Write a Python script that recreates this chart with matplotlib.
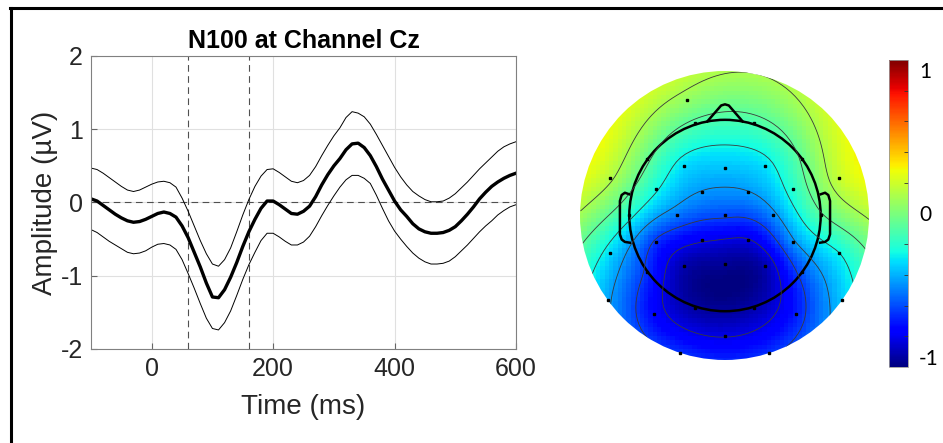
import numpy as np
import matplotlib
matplotlib.use('Agg')
import matplotlib.pyplot as plt
from matplotlib.patches import Circle
from matplotlib.lines import Line2D

plt.rcParams['font.family'] = ['Liberation Sans', 'DejaVu Sans']
plt.rcParams['axes.unicode_minus'] = False

# ERP at Cz (mean and confidence band), every 10 ms
time_ms = list(range(-100, 601, 10))
erp_mean = [0.05, 0.02, -0.04, -0.10, -0.16, -0.21, -0.25, -0.27, -0.26, -0.23,
            -0.19, -0.15, -0.13, -0.15, -0.20, -0.32, -0.48, -0.68, -0.88, -1.10,
            -1.29, -1.30, -1.19, -1.02, -0.82, -0.60, -0.40, -0.23, -0.08, 0.02,
            0.02, -0.03, -0.09, -0.15, -0.16, -0.12, -0.05, 0.08, 0.24, 0.38,
            0.50, 0.60, 0.72, 0.80, 0.81, 0.75, 0.64, 0.49, 0.32, 0.17,
            0.02, -0.10, -0.19, -0.29, -0.36, -0.40, -0.42, -0.42, -0.41, -0.38,
            -0.33, -0.25, -0.16, -0.06, 0.05, 0.14, 0.22, 0.28, 0.33, 0.37,
            0.40]
erp_upper = [0.47, 0.45, 0.40, 0.34, 0.28, 0.22, 0.17, 0.15, 0.17, 0.21,
             0.25, 0.28, 0.29, 0.27, 0.21, 0.06, -0.12, -0.32, -0.52, -0.70,
             -0.84, -0.87, -0.78, -0.62, -0.40, -0.17, 0.04, 0.22, 0.36, 0.45,
             0.46, 0.41, 0.35, 0.29, 0.27, 0.30, 0.37, 0.49, 0.64, 0.78,
             0.91, 1.02, 1.16, 1.24, 1.22, 1.17, 1.07, 0.93, 0.78, 0.63,
             0.48, 0.35, 0.24, 0.15, 0.09, 0.04, 0.01, 0.01, 0.02, 0.06,
             0.12, 0.20, 0.28, 0.37, 0.46, 0.54, 0.62, 0.70, 0.76, 0.80,
             0.83]
erp_lower = [-0.37, -0.41, -0.47, -0.53, -0.58, -0.63, -0.68, -0.70, -0.69, -0.66,
             -0.61, -0.57, -0.56, -0.58, -0.64, -0.78, -0.97, -1.17, -1.38, -1.58,
             -1.72, -1.74, -1.64, -1.48, -1.27, -1.05, -0.85, -0.68, -0.52, -0.42,
             -0.42, -0.47, -0.53, -0.58, -0.58, -0.54, -0.46, -0.33, -0.18, -0.04,
             0.09, 0.21, 0.31, 0.37, 0.37, 0.33, 0.26, 0.10, -0.08, -0.25,
             -0.39, -0.50, -0.60, -0.69, -0.76, -0.81, -0.84, -0.84, -0.83, -0.80,
             -0.74, -0.66, -0.58, -0.49, -0.40, -0.32, -0.25, -0.17, -0.11, -0.06,
             -0.03]
window_ms = [60, 160]

# electrode positions (head radius = 0.5) and N100 window amplitudes
elec_x = [-0.197, -0.157, 0.150, -0.409, 0.404, -0.601, 0.598, -0.213, -0.002, 0.209,
          -0.361, -0.122, 0.118, 0.357, -0.503, -0.253, -0.002, 0.249, 0.502, -0.361,
          -0.122, 0.118, 0.357, -0.601, 0.598, -0.213, -0.002, 0.209, -0.409, 0.404,
          -0.613, 0.610, -0.157, 0.150, -0.373, 0.369, -0.002, -0.235, 0.232]
elec_y = [0.602, 0.482, 0.482, 0.297, 0.297, 0.194, 0.194, 0.259, 0.250, 0.259,
          0.137, 0.125, 0.125, 0.137, 0.001, 0.001, 0.001, 0.001, 0.001, -0.139,
          -0.126, -0.126, -0.139, -0.196, -0.196, -0.262, -0.252, -0.262, -0.295, -0.295,
          -0.443, -0.443, -0.482, -0.482, -0.513, -0.513, -0.628, -0.720, -0.720]
elec_val = [0.06, -0.11, -0.13, -0.05, -0.06, 0.14, 0.19, -0.34, -0.39, -0.33,
            -0.26, -0.48, -0.48, -0.21, -0.23, -0.55, -0.65, -0.52, -0.10, -0.70,
            -0.85, -0.88, -0.50, -0.34, -0.28, -0.98, -1.02, -0.97, -0.70, -0.62,
            -0.45, -0.38, -1.00, -0.98, -0.80, -0.75, -0.88, -0.70, -0.70]

plotrad = 0.755

fig = plt.figure(figsize=(9.43, 4.43), dpi=100)

# ---- ERP panel ----
ax = fig.add_axes([0.0965, 0.2122, 0.4507, 0.6614])
ax.grid(True, color='#e0e0e0', lw=0.8)
ax.set_axisbelow(True)
ax.axhline(0, color='#505050', lw=0.8, dashes=(6, 4))
for t in window_ms:
    ax.axvline(t, color='#505050', lw=0.8, dashes=(6, 4))
ax.plot(time_ms, erp_upper, color='k', lw=0.7)
ax.plot(time_ms, erp_lower, color='k', lw=0.7)
ax.plot(time_ms, erp_mean, color='k', lw=2.4)
ax.set_xlim(-100, 600)
ax.set_ylim(-2, 2)
ax.set_xticks([0, 200, 400, 600])
ax.set_yticks([-2, -1, 0, 1, 2])
ax.tick_params(direction='in', length=4, color='#666666', labelsize=18,
               labelcolor='#262626', pad=6)
for s in ax.spines.values():
    s.set_color('#808080')
    s.set_linewidth(0.8)
ax.set_title('N100 at Channel Cz', fontsize=18, fontweight='bold', pad=6)
ax.set_xlabel('Time (ms)', fontsize=20, color='#262626', labelpad=9)
ax.set_ylabel('Amplitude (µV)', fontsize=20, color='#262626', labelpad=2)

# ---- topography (biharmonic spline, like griddata v4) ----
ex = np.array(elec_x)
ey = np.array(elec_y)
ev = np.array(elec_val)

def green(r):
    g = np.zeros_like(r)
    nz = r > 0
    g[nz] = r[nz] ** 2 * (np.log(r[nz]) - 1)
    return g

pts = ex + 1j * ey
w = np.linalg.solve(green(np.abs(pts[:, None] - pts[None, :])), ev)
gv = np.linspace(-plotrad, plotrad, 67)
XX, YY = np.meshgrid(gv, gv)
dg = np.abs((XX + 1j * YY).ravel()[:, None] - pts[None, :])
Z = (green(dg) @ w).reshape(XX.shape)
inside = XX ** 2 + YY ** 2 <= plotrad ** 2
Zm = np.where(inside, Z, np.nan)
vlim = np.nanmax(np.abs(Zm))

tx = fig.add_axes([0.6105, 0.1765, 0.3166, 0.674])
tx.set_xlim(-0.78, 0.78)
tx.set_ylim(-0.78, 0.78)
tx.set_aspect('equal')
tx.axis('off')

im = tx.pcolormesh(XX, YY, Z, cmap='jet', vmin=-vlim, vmax=vlim, shading='nearest')
clip = Circle((0, 0), plotrad, transform=tx.transData)
im.set_clip_path(clip)

levels = np.linspace(np.nanmin(Zm), np.nanmax(Zm), 8)[1:-1]
cs = tx.contour(XX, YY, Z, levels=levels, colors='#3a3a3a', linewidths=0.6,
                linestyles='solid')
cs.set_clip_path(clip)

tx.add_patch(Circle((0, 0), 0.5, fill=False, ec='k', lw=1.8))
nose_x = [0.092, 0.02, 0, -0.02, -0.092]
nose_y = [0.492, 0.575, 0.581, 0.575, 0.492]
tx.plot(nose_x, nose_y, color='k', lw=1.8, solid_joinstyle='round')
ear_x = np.array([0.500, 0.523, 0.540, 0.549, 0.549, 0.540, 0.523, 0.497])
ear_y = np.array([0.111, 0.119, 0.107, 0.076, -0.098, -0.125, -0.138, -0.142])
tx.plot(ear_x, ear_y, color='k', lw=1.8, solid_joinstyle='round')
tx.plot(-ear_x, ear_y, color='k', lw=1.8, solid_joinstyle='round')
tx.plot(ex, ey, 's', color='k', ms=1.8, ls='none')

# ---- colorbar ----
cax = fig.add_axes([0.9427, 0.1716, 0.0201, 0.693])
cb = fig.colorbar(im, cax=cax)
cb.set_ticks([-1, 0, 1])
cb.ax.set_yticks(np.linspace(-vlim, vlim, 11)[1:-1], minor=True)
cb.ax.tick_params(which='major', length=0, labelsize=15, pad=8)
cb.ax.tick_params(which='minor', direction='in', length=3, width=0.6, color='#333333')
for lab in cb.ax.get_yticklabels():
    lab.set_family(['Lato', 'DejaVu Sans'])
cb.outline.set_edgecolor('#999999')
cb.outline.set_linewidth(0.6)

# outer frame (left and top edges only)
fig.add_artist(Line2D([10.5 / 943, 10.5 / 943], [0, 1 - 7.5 / 443], color='k', lw=2.2,
                      transform=fig.transFigure))
fig.add_artist(Line2D([9.5 / 943, 1], [1 - 7.5 / 443, 1 - 7.5 / 443], color='k', lw=2.2,
                      transform=fig.transFigure))

fig.savefig('out.png', dpi=100)
